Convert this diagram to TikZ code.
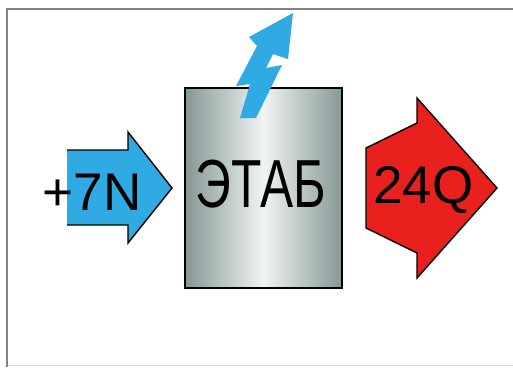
\documentclass[tikz,border=0pt]{standalone}
\usepackage{fontspec}
\setmainfont{Liberation Sans}
\usepackage{graphicx}
\definecolor{arrowblue}{RGB}{48,170,226}
\definecolor{arrowred}{RGB}{232,32,30}
\definecolor{boxedge}{RGB}{132,152,149}
\definecolor{boxmid}{RGB}{240,244,243}
\definecolor{framegray}{RGB}{130,130,130}
\begin{document}
\begin{tikzpicture}[x=1pt,y=-1pt,
  outline/.style={draw=black,line width=1.4pt,line join=miter},
  bigtext/.style={font=\fontsize{68}{68}\selectfont,anchor=base,inner sep=0pt},
  midtext/.style={font=\fontsize{53}{53}\selectfont,anchor=base,inner sep=0pt}]
\useasboundingbox (0,0) rectangle (513,367);
\fill[white] (0,0) rectangle (513,367);
% frame
\draw[framegray,line width=2pt] (513,8.5) -- (6.5,8.5) -- (6.5,367);
\draw[black!12,line width=0.8pt] (7.5,365) -- (513,365);
% blue input arrow
\fill[arrowblue] (67,150) -- (128,150) -- (128,132) -- (172,188) -- (128,243) -- (128,225) -- (67,225) -- cycle;
\draw[outline] (67,150) -- (128,150) -- (128,132) -- (172,188) -- (128,243) -- (128,225) -- (67,225);
% box
\node[outline, minimum width=157pt, minimum height=200pt, inner sep=0pt,
      left color=boxedge, right color=boxedge, middle color=boxmid] (box) at (263.5,188) {};
% lightning arrow
\fill[arrowblue] (293,13) -- (288,59) -- (273,54) -- (266,68) -- (282,65) -- (256,118)
  -- (240,118) -- (250,84) -- (236,86) -- (257,46) -- (249,37) -- cycle;
% red output arrow
\filldraw[fill=arrowred, outline] (417,98) -- (417,123) -- (366,148) -- (366,228) -- (417,253) -- (417,278) -- (497,188) -- cycle;
% texts
\node[bigtext] (etab) at (261,207) {\scalebox{0.73}[1]{ЭТАБ}};
\node[midtext] (inp) at (92,210) {+7N};
\node[midtext] (outp) at (423.5,203) {24Q};
\end{tikzpicture}
\end{document}
